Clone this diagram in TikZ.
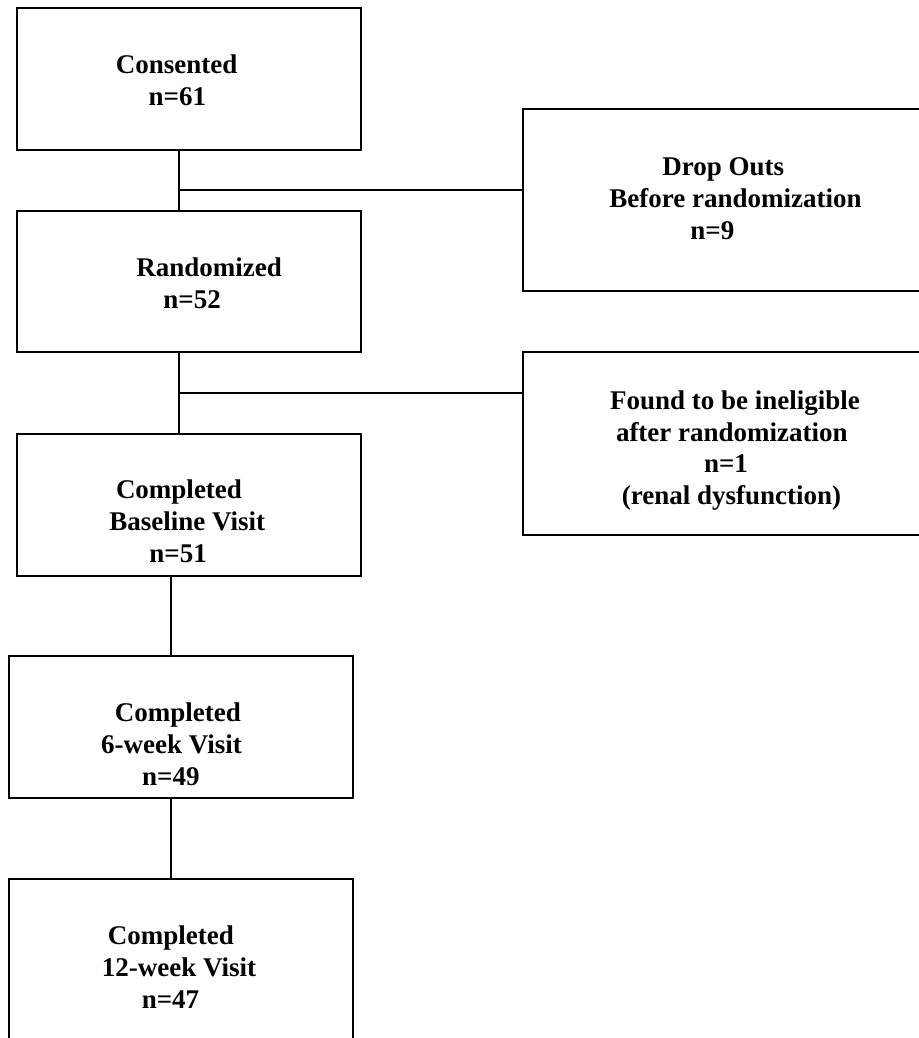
\documentclass[tikz,border=0pt]{standalone}
\usepackage{fontspec}
\setmainfont{Liberation Serif}
\usepackage{tikz}

\begin{document}
\begin{tikzpicture}[x=0.5pt, y=-0.5pt,
	box/.style={draw, line width=1pt, rectangle, inner sep=0pt},
	txt/.style={anchor=west, align=left, inner sep=0pt, font=\fontsize{13.5}{15.9}\selectfont\bfseries},
	link/.style={line width=0.8pt}]
			%%%%% START %%%%%
			\useasboundingbox (0, 0) rectangle (919, 1038);
			
			\node[box, minimum width=172pt, minimum height=71pt] (cons) at (189, 79) {};
			\node[box, minimum width=203.5pt, minimum height=91pt] (drop) at (726.5, 200) {};
			\node[box, minimum width=172pt, minimum height=70.5pt] (rand) at (189, 281.5) {};
			\node[box, minimum width=203.5pt, minimum height=91.5pt] (inel) at (726.5, 443.5) {};
			\node[box, minimum width=172pt, minimum height=71pt] (base) at (189, 505) {};
			\node[box, minimum width=172pt, minimum height=71pt] (six) at (181, 727) {};
			\node[box, minimum width=172pt, minimum height=83pt] (twelve) at (181, 962) {};
			
			\node[txt] (consT) at (115.5, 80.5) {Consented\\\hspace*{16.4pt}n=61};
			\node[txt] (dropT) at (609, 198.5) {\hspace*{26.5pt}Drop Outs\\Before randomization\\\hspace*{40.5pt}n=9};
			\node[txt] (randT) at (136, 283.5) {Randomized\\\hspace*{13.5pt}n=52};
			\node[txt] (inelT) at (609.6, 450.5) {Found to be ineligible\\\hspace*{3pt}after randomization\\\hspace*{47pt}n=1\\\hspace*{5.9pt}(renal dysfunction)};
			\node[txt] (baseT) at (109, 521.5) {\hspace*{3.3pt}Completed\\Baseline Visit\\\hspace*{20pt}n=51};
			\node[txt] (sixT) at (100.8, 744) {\hspace*{6.8pt}Completed\\6-week Visit\\\hspace*{20.5pt}n=49};
			\node[txt] (twelveT) at (101.4, 967) {\hspace*{3pt}Completed\\12-week Visit\\\hspace*{20pt}n=47};
			
			\coordinate (j1) at (179, 190);
			\draw[link] (cons.south -| j1) -- (rand.north -| j1);
			\draw[link] (j1) -- (j1 -| drop.west);
			
			\coordinate (j2) at (179, 393);
			\draw[link] (rand.south -| j2) -- (base.north -| j2);
			\draw[link] (j2) -- (j2 -| inel.west);
			
			\coordinate (j3) at (171, 616);
			\draw[link] (base.south -| j3) -- (six.north -| j3);
			
			\coordinate (j4) at (171, 838);
			\draw[link] (six.south -| j4) -- (twelve.north -| j4);
			%%%%% END %%%%%
\end{tikzpicture}
\end{document}
